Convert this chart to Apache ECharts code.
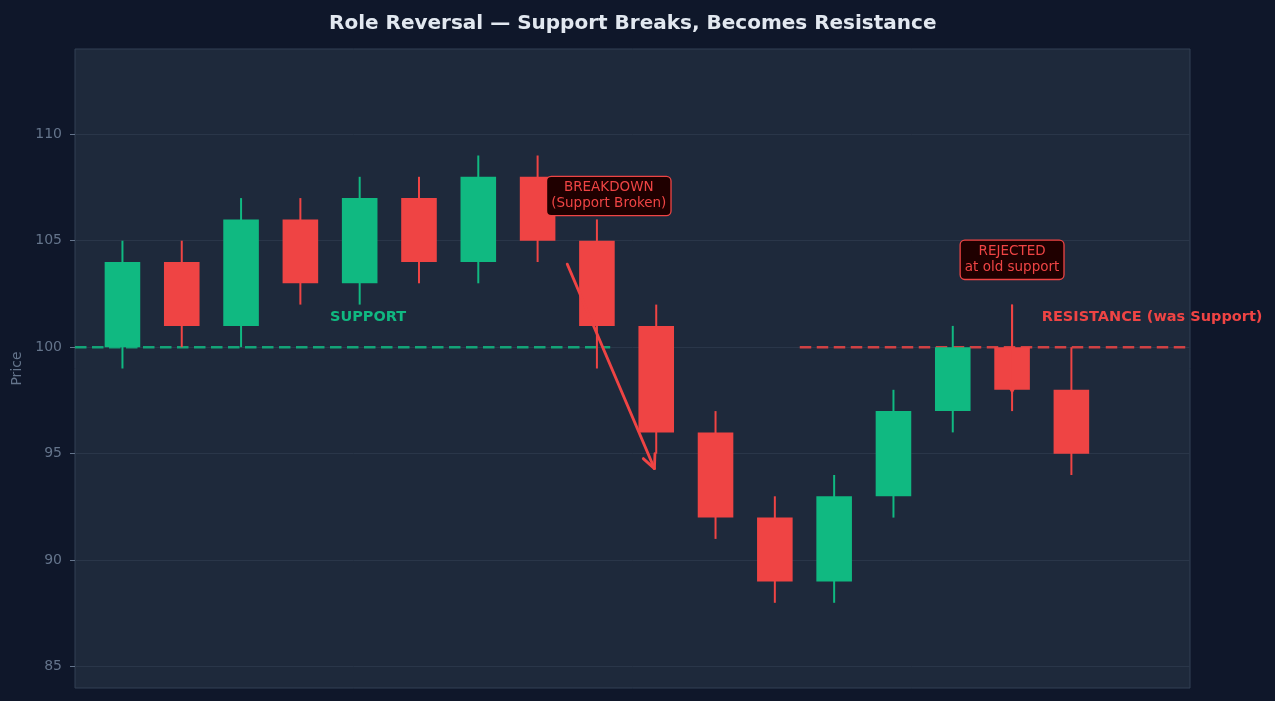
<!DOCTYPE html>
<html><head><meta charset="utf-8">
<script src="https://cdn.jsdelivr.net/npm/echarts@6/dist/echarts.min.js"></script>
<style>html,body{margin:0;padding:0;background:#0f172a;}#c{width:1275px;height:701px;}</style>
</head><body><div id="c"></div>
<script>
// ---- data ----
const candleIndex = [0,1,2,3,4,5,6,7,8,9,10,11,12,13,14,15,16];
const opens  = [100,104,101,106,103,107,104,108,105,101, 96, 92, 89, 93, 97,100, 98];
const closes = [104,101,106,103,107,104,108,105,101, 96, 92, 89, 93, 97,100, 98, 95];
const lows   = [ 99,100,100,102,102,103,103,104, 99, 95, 91, 88, 88, 92, 96, 97, 94];
const highs  = [105,105,107,107,108,108,109,109,106,102, 97, 93, 94, 98,101,102,100];
const yTicks = [85,90,95,100,105,110];
const levelPrice = 100;
const supportSpan = [-0.8, 8.224];
const resistanceSpan = [11.42, 18];
const labelTexts = ['SUPPORT','RESISTANCE (was Support)'];
const labelX = [3.5, 15.5];
const labelY = [101.4, 101.4];
const noteTexts = ['BREAKDOWN\n(Support Broken)','REJECTED\nat old support'];
const noteX = [8.2, 15];
const noteY = [107.1, 104.1];
const arrowFrom = [[7.5,103.9],[15,102]];
const arrowTo   = [[8.97,94.3],[15,97.8]];

const GREEN = '#10b981', RED = '#ef4444';
const FONT = "'DejaVu Sans', sans-serif";

const candleData = candleIndex.map((x,i)=>[x, opens[i], closes[i], lows[i], highs[i]]);
const chart = echarts.init(document.getElementById('c'));

chart.setOption({
  animation: false,
  backgroundColor: '#0f172a',
  title: {
    text: 'Role Reversal — Support Breaks, Becomes Resistance',
    left: 324, top: 9,
    textStyle: {color:'#e2e8f0', fontSize:20, fontWeight:'bold', fontFamily:FONT}
  },
  grid: {left:75, right:85, top:49, bottom:13, show:true, backgroundColor:'#1e293b', borderColor:'#334155', borderWidth:1},
  xAxis: {type:'value', min:-0.8, max:18, axisLine:{show:false, onZero:false}, axisTick:{show:false}, axisLabel:{show:false}, splitLine:{show:false}},
  yAxis: {
    type:'value', min:84, max:114,
    name:'Price', nameLocation:'middle', nameGap:40,
    nameTextStyle:{color:'#64748b', fontSize:14, fontFamily:FONT},
    axisLine:{show:false, onZero:false},
    axisTick:{show:true, length:5, lineStyle:{color:'#64748b', width:1}, customValues: yTicks},
    axisLabel:{color:'#64748b', fontSize:14, margin:13, fontFamily:FONT, customValues: yTicks},
    splitLine:{show:true, lineStyle:{color:'#2a3649', width:1}}
  },
  series: [
    {type:'line', z:1, symbol:'none', silent:true,
     data:[[supportSpan[0],levelPrice],[supportSpan[1],levelPrice]],
     lineStyle:{color:GREEN, width:2.5, type:[11.5,5.5], opacity:0.85}},
    {type:'line', z:1, symbol:'none', silent:true,
     data:[[resistanceSpan[0],levelPrice],[resistanceSpan[1],levelPrice]],
     lineStyle:{color:RED, width:2.5, type:[11.5,5.5], opacity:0.85}},
    {type:'custom', z:2, silent:true, data:candleData, encode:{x:0, y:[1,2,3,4]},
     renderItem:function(params, api){
       const x=api.value(0), o=api.value(1), c=api.value(2), l=api.value(3), h=api.value(4);
       const col = c>=o?GREEN:RED;
       const top=api.coord([x, Math.max(o,c)]), bot=api.coord([x, Math.min(o,c)]);
       const lo=api.coord([x,l]), hi=api.coord([x,h]);
       const w=api.size([0.6,0])[0];
       return {type:'group', children:[
         {type:'line', shape:{x1:hi[0],y1:hi[1],x2:lo[0],y2:lo[1]}, style:{stroke:col, lineWidth:2}},
         {type:'rect', shape:{x:top[0]-w/2, y:top[1], width:w, height:bot[1]-top[1]}, style:{fill:col}}
       ]};
     }},
    {type:'custom', z:3, silent:true,
     data: arrowFrom.map((f,i)=>[f[0],f[1],arrowTo[i][0],arrowTo[i][1],i]),
     encode:{x:[0,2], y:[1,3]},
     renderItem:function(params, api){
       const a=api.coord([api.value(0),api.value(1)]), b=api.coord([api.value(2),api.value(3)]);
       const kind=api.value(4);
       const ang=Math.atan2(b[1]-a[1], b[0]-a[0]);
       if(kind===0){
         const L=15, s=25*Math.PI/180;
         const p1=[b[0]-L*Math.cos(ang-s), b[1]-L*Math.sin(ang-s)];
         const p2=[b[0]-L*Math.cos(ang+s), b[1]-L*Math.sin(ang+s)];
         return {type:'group', children:[
           {type:'line', shape:{x1:a[0],y1:a[1],x2:b[0],y2:b[1]}, style:{stroke:RED, lineWidth:2.8, lineCap:'round'}},
           {type:'polyline', shape:{points:[p1,b,p2]}, style:{stroke:RED, fill:null, lineWidth:2.8, lineCap:'round', lineJoin:'round'}}
         ]};
       } else {
         const L=6, s=30*Math.PI/180;
         const p1=[b[0]-L*Math.cos(ang-s), b[1]-L*Math.sin(ang-s)];
         const p2=[b[0]-L*Math.cos(ang+s), b[1]-L*Math.sin(ang+s)];
         return {type:'group', children:[
           {type:'line', shape:{x1:a[0],y1:a[1],x2:b[0],y2:b[1]}, style:{stroke:RED, lineWidth:2}},
           {type:'polygon', shape:{points:[p1,b,p2]}, style:{fill:RED}}
         ]};
       }
     }},
    {type:'custom', z:4, silent:true,
     data: noteX.map((x,i)=>[x, noteY[i], i]), encode:{x:0, y:1},
     renderItem:function(params, api){
       const p=api.coord([api.value(0), api.value(1)]);
       return {type:'text', x:p[0], y:p[1], style:{
         text: noteTexts[api.value(2)], fill:RED, font:'13.5px '+FONT, lineHeight:16,
         align:'center', verticalAlign:'middle',
         backgroundColor:'#1f0000', borderColor:RED, borderWidth:1.3, borderRadius:4, padding:[3,4,3,4]
       }};
     }},
    {type:'custom', z:4, silent:true,
     data: labelX.map((x,i)=>[x, labelY[i], i]), encode:{x:0, y:1},
     renderItem:function(params, api){
       const p=api.coord([api.value(0), api.value(1)]);
       const i=api.value(2);
       return {type:'text', x:p[0], y:p[1], style:{
         text: labelTexts[i], fill: i===0?GREEN:RED, font:'bold 14.5px '+FONT,
         align:'left', verticalAlign:'middle'
       }};
     }}
  ]
});
</script></body></html>
